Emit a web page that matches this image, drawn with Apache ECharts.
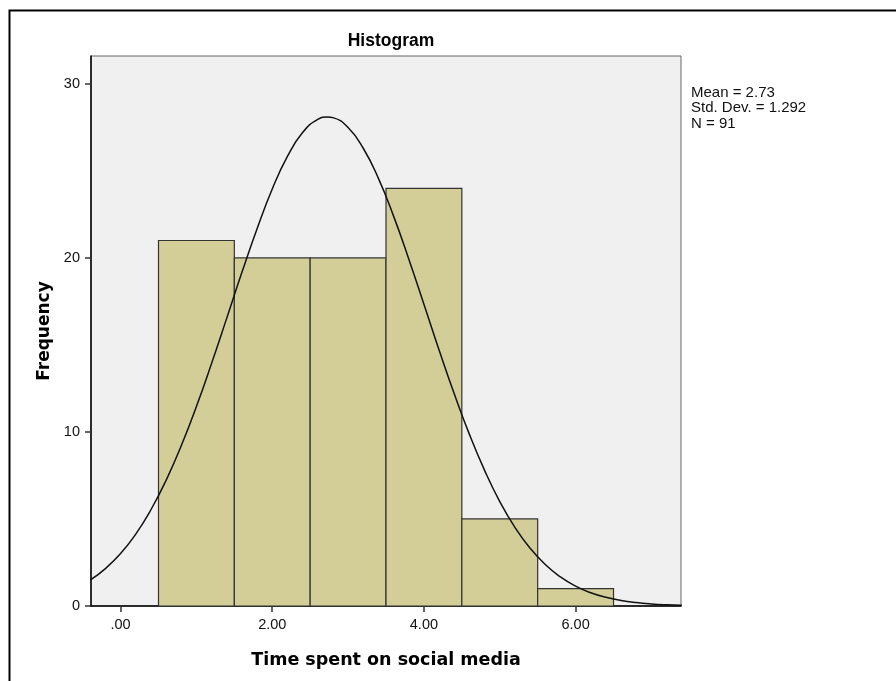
<!DOCTYPE html>
<html>
<head>
<meta charset="utf-8">
<script src="https://cdn.jsdelivr.net/npm/echarts@6/dist/echarts.min.js"></script>
<style>
html,body{margin:0;padding:0;background:#fff;}
#chart{width:896px;height:681px;}
</style>
</head>
<body>
<div id="chart"></div>
<script>
// Histogram bins (left edge, right edge) and frequencies
var binStarts = [0.5, 1.5, 2.5, 3.5, 4.5, 5.5];
var binEnds   = [1.5, 2.5, 3.5, 4.5, 5.5, 6.5];
var frequencies = [21, 20, 20, 24, 5, 1];

// Normal curve (x, frequency)
var curveX = [-0.4,-0.2,0,0.2,0.4,0.6,0.8,1.0,1.2,1.4,1.6,1.8,2.0,2.2,2.4,2.6,2.73,2.8,3.0,3.2,3.4,3.6,3.8,4.0,4.2,4.4,4.6,4.8,5.0,5.2,5.4,5.6,5.8,6.0,6.2,6.4,6.6,6.8,7.0,7.2,7.4];
var curveY = [1.49,2.15,3.01,4.13,5.53,7.22,9.21,11.46,13.94,16.54,19.17,21.68,23.96,25.83,27.20,27.96,28.10,28.06,27.49,26.30,24.57,22.40,19.94,17.34,14.71,12.19,9.86,7.79,6.00,4.52,3.32,2.38,1.67,1.14,0.76,0.50,0.32,0.20,0.12,0.07,0.04];

var xTicks = [0, 2, 4, 6];
var yTicks = [0, 10, 20, 30];

var titleText = 'Histogram';
var xName = 'Time spent on social media';
var yName = 'Frequency';
var statsLines = ['Mean = 2.73', 'Std. Dev. = 1.292', 'N = 91'];

var barData = binStarts.map(function (s, i) { return [s, binEnds[i], frequencies[i]]; });
var curveData = curveX.map(function (x, i) { return [x, curveY[i]]; });

var chart = echarts.init(document.getElementById('chart'), null, {renderer: 'canvas'});
var font = 'Arial, "Liberation Sans", sans-serif';
var nameFont = '"DejaVu Sans", Verdana, sans-serif';

chart.setOption({
  animation: false,
  backgroundColor: '#ffffff',
  title: {
    text: titleText,
    left: 386, top: 27, textAlign: 'center',
    textStyle: {fontFamily: font, fontSize: 17.5, fontWeight: 'bold', color: '#000'}
  },
  grid: {
    left: 91, top: 56, width: 590, height: 550,
    show: true, backgroundColor: '#f0f0f0', borderColor: '#666', borderWidth: 1
  },
  xAxis: {
    type: 'value', min: -0.39, max: 7.39,
    name: xName, nameLocation: 'middle', nameGap: 45,
    nameTextStyle: {fontFamily: nameFont, fontSize: 17.5, fontWeight: 'bold', color: '#000'},
    axisLine: {show: true, onZero: false, lineStyle: {color: '#000', width: 1.5}},
    axisTick: {show: true, length: 6, customValues: xTicks, lineStyle: {color: '#333', width: 1.5}},
    axisLabel: {
      customValues: xTicks, margin: 11,
      fontFamily: font, fontSize: 14.5, color: '#111',
      formatter: function (v) { return v === 0 ? '.00' : v.toFixed(2); }
    },
    splitLine: {show: false}
  },
  yAxis: {
    type: 'value', min: 0, max: 31.6,
    name: yName, nameLocation: 'middle', nameGap: 37,
    nameTextStyle: {fontFamily: nameFont, fontSize: 17, fontWeight: 'bold', color: '#000'},
    axisLine: {show: true, onZero: false, lineStyle: {color: '#000', width: 1.5}},
    axisTick: {show: true, length: 6, customValues: yTicks, lineStyle: {color: '#333', width: 1.5}},
    axisLabel: {customValues: yTicks, margin: 11, fontFamily: font, fontSize: 14.5, color: '#111'},
    splitLine: {show: false}
  },
  series: [
    {
      type: 'custom',
      data: barData,
      encode: {x: [0, 1], y: 2},
      renderItem: function (params, api) {
        var p0 = api.coord([api.value(0), api.value(2)]);
        var p1 = api.coord([api.value(1), 0]);
        return {
          type: 'rect',
          shape: {x: p0[0], y: p0[1], width: p1[0] - p0[0], height: p1[1] - p0[1]},
          style: {fill: '#d3ce98', stroke: '#333', lineWidth: 1.2}
        };
      },
      z: 2
    },
    {
      type: 'line',
      data: curveData,
      smooth: true,
      showSymbol: false,
      lineStyle: {color: '#111', width: 1.5},
      z: 3
    }
  ],
  graphic: [
    {
      type: 'rect', left: 7, top: 8, silent: true,
      shape: {x: 0, y: 0, width: 1000, height: 800},
      style: {fill: 'none', stroke: '#000', lineWidth: 2}
    },
    {
      type: 'text', left: 691, top: 85,
      style: {text: statsLines.join('\n'), fontFamily: font, fontSize: 15, lineHeight: 15.5, fill: '#111'}
    }
  ]
});
</script>
</body>
</html>
